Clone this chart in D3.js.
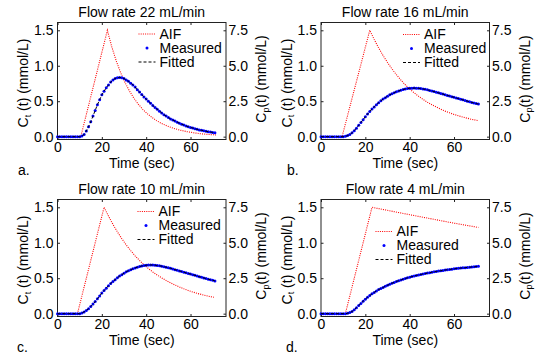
<!DOCTYPE html>
<html>
<head>
<meta charset="utf-8">
<script src="https://cdn.jsdelivr.net/npm/d3@7"></script>
<style>
  body { margin: 0; background: #fff; }
  text { font-family: "Liberation Sans", Arial, sans-serif; }
</style>
</head>
<body>
<script>
/* Data */
const titles = ['Flow rate 22 mL/min', 'Flow rate 16 mL/min', 'Flow rate 10 mL/min', 'Flow rate 4 mL/min'];
const panelLetters = ['a.', 'b.', 'c.', 'd.'];
const legendLabels = ['AIF', 'Measured', 'Fitted'];
const xTicks = [0, 20, 40, 60];
const ctTicks = [0, 0.5, 1.0, 1.5];
const cpTicks = [0, 2.5, 5.0, 7.5];

// sample times of the tissue curves (sec)
const timeSec = [0, 1, 2, 3, 4, 5, 6, 7, 8, 9, 10, 11, 12, 13, 14, 15, 16, 17, 18, 19,
  20, 21, 22, 23, 24, 25, 26, 27, 28, 29, 30, 31, 32, 33, 34, 35, 36, 37, 38, 39,
  40, 41, 42, 43, 44, 45, 46, 47, 48, 49, 50, 51, 52, 53, 54, 55, 56, 57, 58, 59,
  60, 61, 62, 63, 64, 65, 66, 67, 68, 69, 70, 71];

// tissue concentration Ct (mmol/L), measured = fitted to the eye
const ctA = [0, 0, 0, 0, 0, 0, 0, 0, 0, 0, 0, 0.01, 0.03, 0.08, 0.14, 0.21, 0.29, 0.37, 0.45, 0.52,
  0.59, 0.64, 0.69, 0.73, 0.77, 0.80, 0.82, 0.83, 0.835, 0.83, 0.82, 0.80, 0.78, 0.755, 0.73, 0.70, 0.66, 0.63, 0.595, 0.56,
  0.53, 0.50, 0.47, 0.44, 0.41, 0.385, 0.36, 0.335, 0.31, 0.29, 0.27, 0.25, 0.235, 0.22, 0.205, 0.19, 0.175, 0.163, 0.152, 0.141,
  0.13, 0.121, 0.112, 0.103, 0.095, 0.089, 0.083, 0.076, 0.07, 0.065, 0.06, 0.056];
const ctB = [0, 0, 0, 0, 0, 0, 0, 0, 0, 0, 0, 0.005, 0.015, 0.03, 0.055, 0.085, 0.12, 0.16, 0.20, 0.24,
  0.28, 0.32, 0.355, 0.39, 0.42, 0.45, 0.48, 0.505, 0.53, 0.55, 0.57, 0.59, 0.605, 0.62, 0.635, 0.645, 0.655, 0.665, 0.672, 0.678,
  0.682, 0.684, 0.685, 0.684, 0.682, 0.678, 0.673, 0.667, 0.66, 0.652, 0.644, 0.636, 0.627, 0.618, 0.609, 0.60, 0.591, 0.582, 0.573, 0.564,
  0.555, 0.546, 0.537, 0.528, 0.519, 0.51, 0.501, 0.492, 0.483, 0.475, 0.467, 0.46];
const ctC = [0, 0, 0, 0, 0, 0, 0, 0, 0, 0, 0, 0.01, 0.025, 0.045, 0.07, 0.10, 0.135, 0.17, 0.21, 0.25,
  0.29, 0.325, 0.36, 0.395, 0.425, 0.455, 0.48, 0.505, 0.53, 0.55, 0.57, 0.59, 0.605, 0.62, 0.633, 0.645, 0.655, 0.664, 0.672, 0.678,
  0.683, 0.686, 0.687, 0.686, 0.684, 0.68, 0.675, 0.669, 0.662, 0.655, 0.647, 0.639, 0.63, 0.621, 0.612, 0.603, 0.594, 0.585, 0.576, 0.567,
  0.558, 0.549, 0.54, 0.531, 0.522, 0.513, 0.504, 0.495, 0.486, 0.478, 0.47, 0.462];
const ctD = [0, 0, 0, 0, 0, 0, 0, 0, 0, 0, 0, 0, 0.005, 0.015, 0.03, 0.055, 0.085, 0.115, 0.145, 0.175,
  0.205, 0.23, 0.255, 0.28, 0.30, 0.32, 0.34, 0.355, 0.37, 0.385, 0.40, 0.415, 0.43, 0.44, 0.455, 0.465, 0.475, 0.485, 0.495, 0.505,
  0.515, 0.523, 0.531, 0.539, 0.546, 0.553, 0.56, 0.566, 0.572, 0.578, 0.584, 0.59, 0.595, 0.60, 0.605, 0.61, 0.615, 0.62, 0.624, 0.628,
  0.632, 0.636, 0.64, 0.643, 0.646, 0.649, 0.652, 0.655, 0.658, 0.661, 0.664, 0.667];

// arterial input function Cp (mmol/L), right axis
const aifTimeA = [0, 10.5, 22.5, 24.5, 26.5, 28.5, 30.5, 32.5, 34.5, 36.5, 38.5, 40.5, 42.5, 44.5, 46.5,
  48.5, 50.5, 52.5, 54.5, 56.5, 58.5, 60.5, 62.5, 64.5, 66.5, 68.5, 70.5, 71.5];
const aifA = [0, 0, 7.5, 6.33, 5.34, 4.50, 3.80, 3.21, 2.70, 2.28, 1.92, 1.62, 1.37, 1.15, 0.97,
  0.82, 0.69, 0.58, 0.49, 0.42, 0.35, 0.30, 0.25, 0.21, 0.18, 0.15, 0.13, 0.12];
const aifTimeB = [0, 9.5, 22, 24, 26, 28, 30, 32, 34, 36, 38, 40, 42, 44, 46,
  48, 50, 52, 54, 56, 58, 60, 62, 64, 66, 68, 70, 71];
const aifB = [0, 0, 7.5, 6.85, 6.26, 5.72, 5.23, 4.78, 4.37, 4.0, 3.66, 3.36, 3.09, 2.85, 2.63,
  2.43, 2.25, 2.09, 1.94, 1.80, 1.68, 1.57, 1.47, 1.38, 1.30, 1.22, 1.16, 1.13];
const aifTimeC = [0, 9, 21, 23, 25, 27, 29, 31, 33, 35, 37, 39, 41, 43, 45,
  47, 49, 51, 53, 55, 57, 59, 61, 63, 65, 67, 69, 70.5];
const aifC = [0, 0, 7.5, 6.88, 6.30, 5.77, 5.29, 4.85, 4.45, 4.08, 3.75, 3.45, 3.18, 2.94, 2.72,
  2.52, 2.34, 2.17, 2.02, 1.88, 1.75, 1.63, 1.53, 1.43, 1.35, 1.27, 1.20, 1.16];
const aifTimeD = [0, 11, 23, 35, 47, 59, 71];
const aifD = [0, 0, 7.5, 7.13, 6.77, 6.41, 6.08];

/* Layout */
const width = 550;
const height = 354;
const boxW = 168.5;
const boxH = 117;
const fontSize = 14;

const panels = [
  { ct: ctA, aifT: aifTimeA, aif: aifA, left: 57.5, top: 22.5, letterX: 18, legX: 81, legY: 11.5 },
  { ct: ctB, aifT: aifTimeB, aif: aifB, left: 321, top: 22.5, letterX: 287, legX: 82, legY: 12 },
  { ct: ctC, aifT: aifTimeC, aif: aifC, left: 57.5, top: 199.5, letterX: 17, legX: 80, legY: 12 },
  { ct: ctD, aifT: aifTimeD, aif: aifD, left: 321, top: 199.5, letterX: 286, legX: 54.5, legY: 32 }
];

const svg = d3.select('body').append('svg')
  .attr('width', width)
  .attr('height', height)
  .style('font-size', fontSize + 'px');

svg.append('rect')
  .attr('width', width)
  .attr('height', height)
  .attr('fill', '#fff');

const fmt = d3.format('.1f');

panels.forEach((p, k) => {
  const g = svg.append('g')
    .attr('transform', `translate(${p.left}, ${p.top})`);

  /* Scales */
  const xScale = d3.scaleLinear().domain([0, 76]).range([0, boxW]);
  const yLeft = d3.scaleLinear().domain([-0.04, 1.61]).range([boxH, 0]);
  const yRight = d3.scaleLinear().domain([-0.2, 8.05]).range([boxH, 0]);

  /* Axes */
  function tidy(a) {
    a.select('.domain').remove();
    a.selectAll('.tick line').attr('stroke', '#222');
    a.selectAll('.tick text').attr('fill', '#000').style('font-size', fontSize + 'px')
      .style('font-family', '"Liberation Sans", Arial, sans-serif');
  }

  g.append('g')
    .attr('transform', `translate(0, ${boxH})`)
    .call(d3.axisBottom(xScale).tickValues(xTicks).tickSizeInner(-2.5).tickSizeOuter(0).tickPadding(3))
    .call(tidy);

  g.append('g')
    .call(d3.axisTop(xScale).tickValues(xTicks).tickSizeInner(-2.5).tickSizeOuter(0).tickFormat(''))
    .call(tidy);

  g.append('g')
    .call(d3.axisLeft(yLeft).tickValues(ctTicks).tickFormat(fmt).tickSizeInner(-2.5).tickSizeOuter(0).tickPadding(4))
    .call(tidy);

  g.append('g')
    .attr('transform', `translate(${boxW}, 0)`)
    .call(d3.axisRight(yRight).tickValues(cpTicks).tickFormat(fmt).tickSizeInner(-2.5).tickSizeOuter(0).tickPadding(2.5))
    .call(tidy);

  /* Box */
  g.append('rect')
    .attr('width', boxW)
    .attr('height', boxH)
    .attr('fill', 'none')
    .attr('stroke', '#222')
    .attr('stroke-width', 1);

  /* AIF, red dotted on right axis */
  const aifLine = d3.line()
    .x((d, i) => xScale(p.aifT[i]))
    .y(d => yRight(d));

  g.append('path')
    .attr('d', aifLine(p.aif))
    .attr('fill', 'none')
    .attr('stroke', '#ff0000')
    .attr('stroke-width', 1.1)
    .attr('stroke-dasharray', '1,1.2');

  /* Measured dots */
  g.append('g')
    .selectAll('circle')
    .data(p.ct).enter()
    .append('circle')
    .attr('cx', (d, i) => xScale(timeSec[i]))
    .attr('cy', d => yLeft(d))
    .attr('r', 1.5)
    .attr('fill', '#0000ff');

  /* Fitted line */
  const fitLine = d3.line()
    .x((d, i) => xScale(timeSec[i]))
    .y(d => yLeft(d));

  g.append('path')
    .attr('d', fitLine(p.ct))
    .attr('fill', 'none')
    .attr('stroke', '#000')
    .attr('stroke-width', 1)
    .attr('stroke-dasharray', '3,2');

  /* Legend */
  const lg = g.append('g')
    .attr('transform', `translate(${p.legX}, ${p.legY})`);

  lg.append('line')
    .attr('x1', 0).attr('x2', 17).attr('y1', 0).attr('y2', 0)
    .attr('stroke', '#ff0000')
    .attr('stroke-width', 1.1)
    .attr('stroke-dasharray', '1,1.2');
  lg.append('circle')
    .attr('cx', 8.5).attr('cy', 14).attr('r', 1.5)
    .attr('fill', '#0000ff');
  lg.append('line')
    .attr('x1', 0).attr('x2', 17).attr('y1', 28).attr('y2', 28)
    .attr('stroke', '#000')
    .attr('stroke-dasharray', '3,2');

  lg.selectAll('text')
    .data(legendLabels).enter()
    .append('text')
    .attr('x', 21)
    .attr('y', (d, i) => i * 14)
    .attr('dy', '0.35em')
    .text(d => d);

  /* Title */
  g.append('text')
    .attr('x', boxW / 2)
    .attr('y', -6)
    .attr('text-anchor', 'middle')
    .text(titles[k]);

  /* Axis labels */
  g.append('text')
    .attr('x', boxW / 2)
    .attr('y', boxH + 28.5)
    .attr('text-anchor', 'middle')
    .text('Time (sec)');

  const yl = g.append('text')
    .attr('transform', `translate(-29.5, ${boxH / 2 + 2}) rotate(-90)`)
    .attr('text-anchor', 'middle');
  yl.append('tspan').text('C');
  yl.append('tspan').attr('dy', 2.5).style('font-size', '9px').text('t');
  yl.append('tspan').attr('dy', -2.5).text(' (t) (mmol/L)');

  const yr = g.append('text')
    .attr('transform', `translate(${boxW + 40}, ${boxH / 2 - 2}) rotate(-90)`)
    .attr('text-anchor', 'middle');
  yr.append('tspan').text('C');
  yr.append('tspan').attr('dy', 2.5).style('font-size', '9px').text('p');
  yr.append('tspan').attr('dy', -2.5).text('(t) (mmol/L)');

  /* Panel letter */
  svg.append('text')
    .attr('x', p.letterX)
    .attr('y', p.top + boxH + 35)
    .text(panelLetters[k]);
});
</script>
</body>
</html>
